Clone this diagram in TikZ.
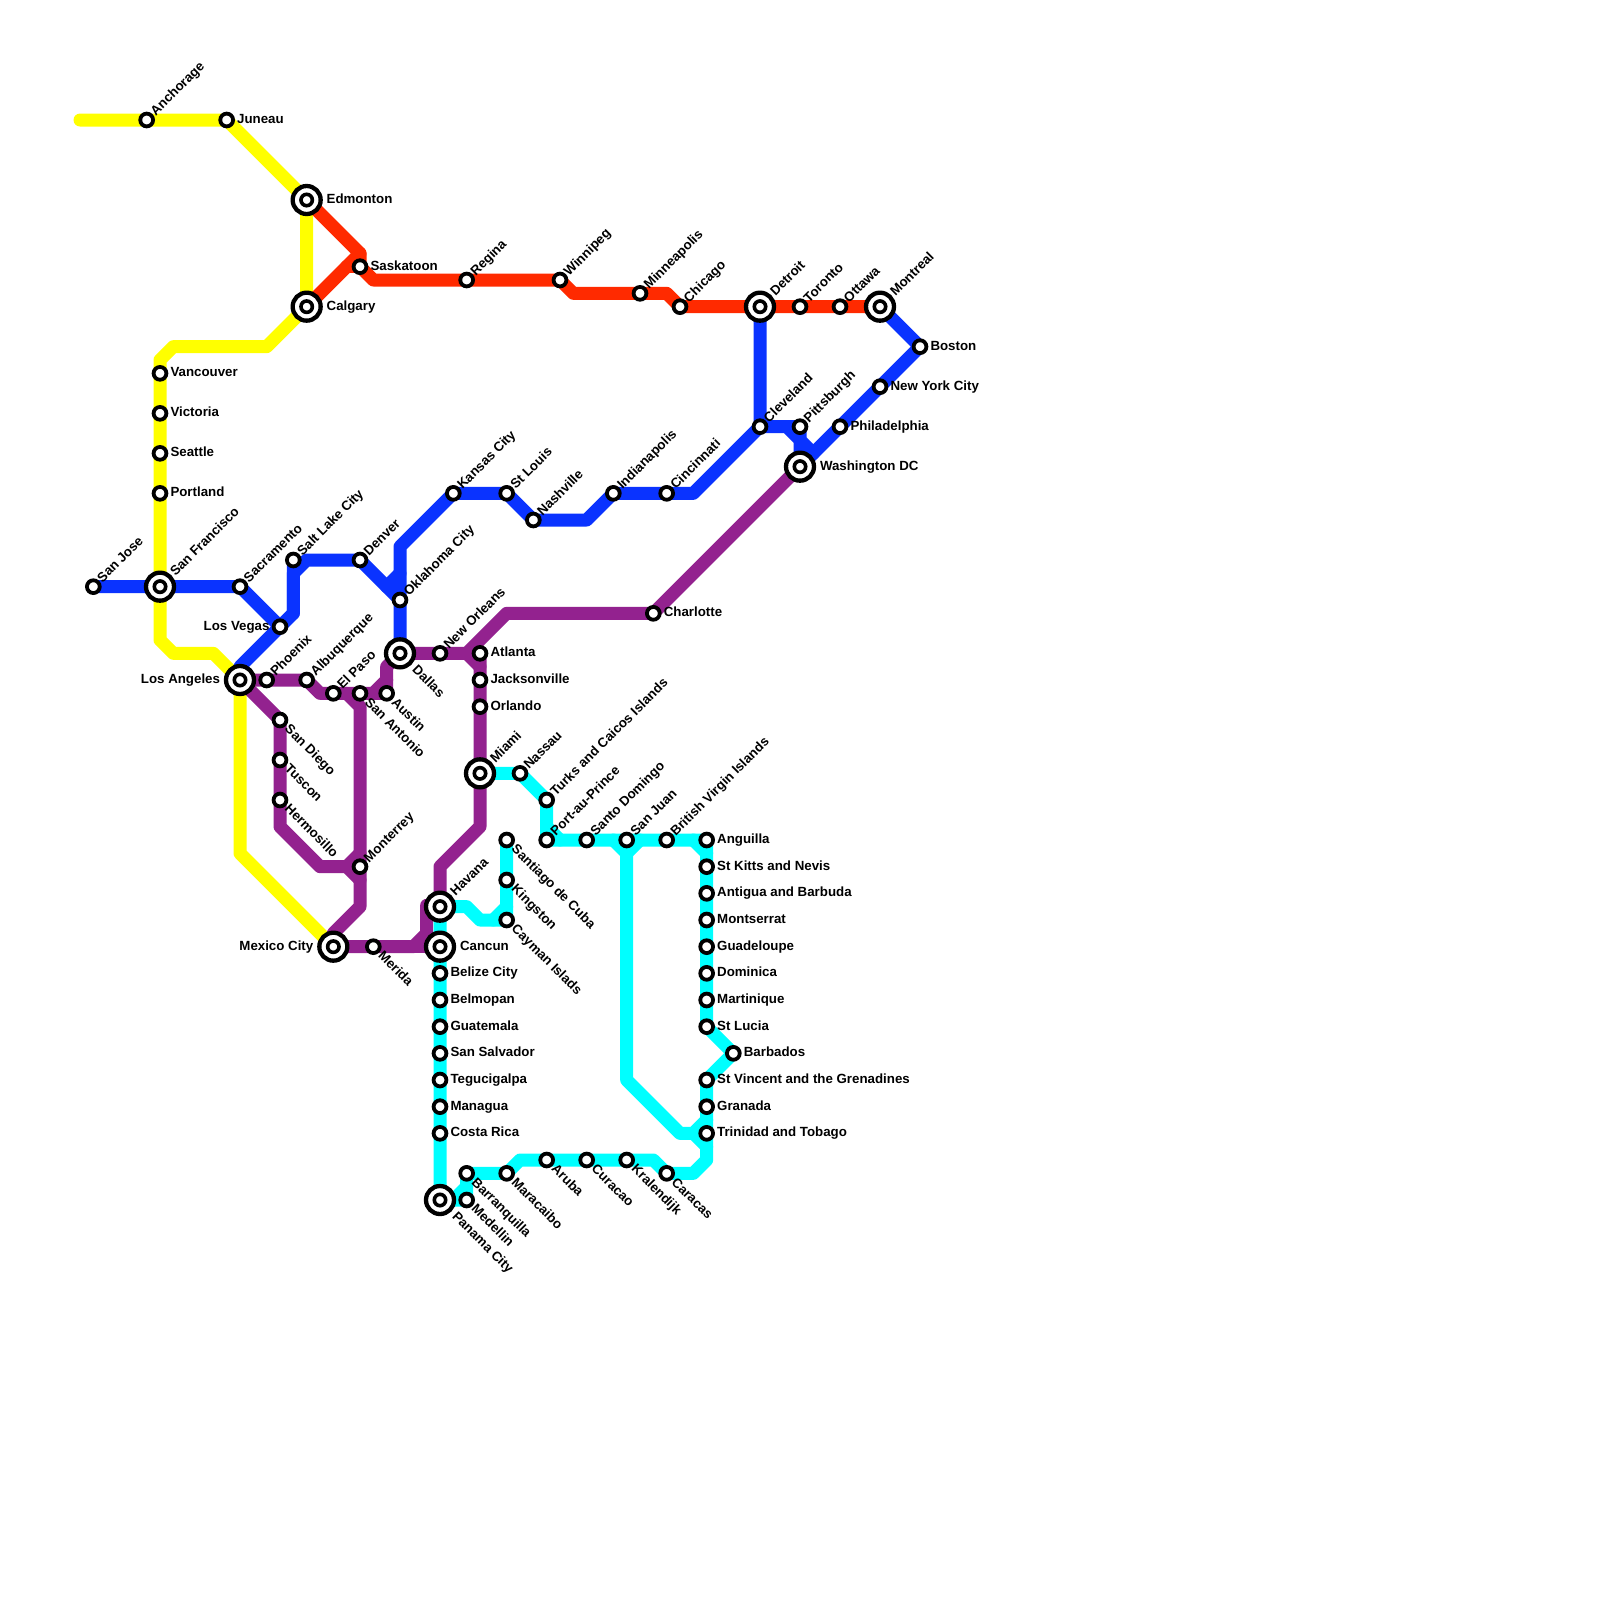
\documentclass[tikz,border=0pt]{standalone}
\usepackage{fontspec}
\setmainfont{Liberation Sans}
\pgfdeclarelayer{bg}
\pgfsetlayers{bg,main}
\definecolor{cyel}{HTML}{FFFF00}
\definecolor{cred}{HTML}{FF2A00}
\definecolor{cblu}{HTML}{0A33FF}
\definecolor{cpur}{HTML}{93228F}
\definecolor{ccya}{HTML}{00FFFF}
\tikzset{
  metro/.style={line width=13pt,line cap=round,line join=round},
  stnc/.style={circle,draw=black,fill=white,line width=3.8pt,minimum size=12.8pt,inner sep=0pt,outer sep=0pt},
  hubo/.style={circle,draw=black,fill=white,line width=4.3pt,minimum size=28pt,inner sep=0pt,outer sep=0pt},
  hubi/.style={circle,draw=black,fill=white,line width=3.6pt,minimum size=11.4pt,inner sep=0pt,outer sep=0pt},
  lbl/.style={inner sep=0pt,outer sep=0pt,font=\fontsize{13.3}{13.3}\selectfont\bfseries,text=black},
  ur/.style={lbl,rotate=45,anchor=base west,xshift=9pt,yshift=-4pt},
  dr/.style={lbl,rotate=-45,anchor=base west,xshift=10pt,yshift=-4pt},
  rt/.style={lbl,anchor=base west,xshift=10.5pt,yshift=-3.5pt},
  lt/.style={lbl,anchor=base east,xshift=-10.5pt,yshift=-3.5pt},
  urb/.style={lbl,rotate=45,anchor=base west,xshift=18pt,yshift=-4pt},
  drb/.style={lbl,rotate=-45,anchor=base west,xshift=20.5pt,yshift=-4pt},
  rtb/.style={lbl,anchor=base west,xshift=20pt,yshift=-3.5pt},
  ltb/.style={lbl,anchor=base east,xshift=-20pt,yshift=-3.5pt},
}
\newcommand{\St}[4]{\node[stnc] (#1) at (#2) {};\node[#3] (#1-t) at (#1.center) {#4};}
\newcommand{\Hb}[4]{\node[hubo] (#1) at (#2) {};\node[hubi] (#1-i) at (#1.center) {};\node[#3] (#1-t) at (#1.center) {#4};}
\begin{document}
\begin{tikzpicture}[x=13.3333pt,y=-13.3333pt]
\useasboundingbox (0,0) rectangle (120,120);
% stations
\St{sanjose}{7,44}{ur}{San Jose}
\St{anchorage}{11,9}{ur}{Anchorage}
\St{juneau}{17,9}{rt}{Juneau}
\Hb{edmonton}{23,15}{rtb}{Edmonton}
\Hb{calgary}{23,23}{rtb}{Calgary}
\St{saskatoon}{27,20}{rt}{Saskatoon}
\St{regina}{35,21}{ur}{Regina}
\St{winnipeg}{42,21}{ur}{Winnipeg}
\St{minneapolis}{48,22}{ur}{Minneapolis}
\St{chicago}{51,23}{ur}{Chicago}
\Hb{detroit}{57,23}{urb}{Detroit}
\St{toronto}{60,23}{ur}{Toronto}
\St{ottawa}{63,23}{ur}{Ottawa}
\Hb{montreal}{66,23}{urb}{Montreal}
\St{boston}{69,26}{rt}{Boston}
\St{nyc}{66,29}{rt}{New York City}
\St{philadelphia}{63,32}{rt}{Philadelphia}
\Hb{washington}{60,35}{rtb}{Washington DC}
\St{pittsburgh}{60,32}{ur}{Pittsburgh}
\St{cleveland}{57,32}{ur}{Cleveland}
\St{cincinnati}{50,37}{ur}{Cincinnati}
\St{indianapolis}{46,37}{ur}{Indianapolis}
\St{nashville}{40,39}{ur}{Nashville}
\St{stlouis}{38,37}{ur}{St Louis}
\St{kansascity}{34,37}{ur}{Kansas City}
\St{oklahoma}{30,45}{ur}{Oklahoma City}
\St{denver}{27,42}{ur}{Denver}
\St{saltlake}{22,42}{ur}{Salt Lake City}
\St{sacramento}{18,44}{ur}{Sacramento}
\St{lasvegas}{21,47}{lt}{Los Vegas}
\Hb{sanfrancisco}{12,44}{urb}{San Francisco}
\St{vancouver}{12,28}{rt}{Vancouver}
\St{victoria}{12,31}{rt}{Victoria}
\St{seattle}{12,34}{rt}{Seattle}
\St{portland}{12,37}{rt}{Portland}
\Hb{losangeles}{18,51}{ltb}{Los Angeles}
\St{phoenix}{20,51}{ur}{Phoenix}
\St{albuquerque}{23,51}{ur}{Albuquerque}
\St{elpaso}{25,52}{ur}{El Paso}
\St{sanantonio}{27,52}{dr}{San Antonio}
\St{austin}{29,52}{dr}{Austin}
\Hb{dallas}{30,49}{drb}{Dallas}
\St{neworleans}{33,49}{ur}{New Orleans}
\St{atlanta}{36,49}{rt}{Atlanta}
\St{jacksonville}{36,51}{rt}{Jacksonville}
\St{orlando}{36,53}{rt}{Orlando}
\Hb{miami}{36,58}{urb}{Miami}
\St{charlotte}{49,46}{rt}{Charlotte}
\St{sandiego}{21,54}{dr}{San Diego}
\St{tuscon}{21,57}{dr}{Tuscon}
\St{hermosillo}{21,60}{dr}{Hermosillo}
\St{monterrey}{27,65}{ur}{Monterrey}
\Hb{mexicocity}{25,71}{ltb}{Mexico City}
\St{merida}{28,71}{dr}{Merida}
\Hb{havana}{33,68}{urb}{Havana}
\Hb{cancun}{33,71}{rtb}{Cancun}
\St{belize}{33,73}{rt}{Belize City}
\St{belmopan}{33,75}{rt}{Belmopan}
\St{guatemala}{33,77}{rt}{Guatemala}
\St{sansalvador}{33,79}{rt}{San Salvador}
\St{tegucigalpa}{33,81}{rt}{Tegucigalpa}
\St{managua}{33,83}{rt}{Managua}
\St{costarica}{33,85}{rt}{Costa Rica}
\Hb{panama}{33,90}{drb}{Panama City}
\St{medellin}{35,90}{dr}{Medellin}
\St{barranquilla}{35,88}{dr}{Barranquilla}
\St{maracaibo}{38,88}{dr}{Maracaibo}
\St{aruba}{41,87}{dr}{Aruba}
\St{curacao}{44,87}{dr}{Curacao}
\St{kralendijk}{47,87}{dr}{Kralendijk}
\St{caracas}{50,88}{dr}{Caracas}
\St{santiago}{38,63}{dr}{Santiago de Cuba}
\St{kingston}{38,66}{dr}{Kingston}
\St{cayman}{38,69}{dr}{Cayman Islads}
\St{nassau}{39,58}{ur}{Nassau}
\St{turks}{41,60}{ur}{Turks and Caicos Islands}
\St{portauprince}{41,63}{ur}{Port-au-Prince}
\St{santodomingo}{44,63}{ur}{Santo Domingo}
\St{sanjuan}{47,63}{ur}{San Juan}
\St{bvi}{50,63}{ur}{British Virgin Islands}
\St{anguilla}{53,63}{rt}{Anguilla}
\St{stkitts}{53,65}{rt}{St Kitts and Nevis}
\St{antigua}{53,67}{rt}{Antigua and Barbuda}
\St{montserrat}{53,69}{rt}{Montserrat}
\St{guadeloupe}{53,71}{rt}{Guadeloupe}
\St{dominica}{53,73}{rt}{Dominica}
\St{martinique}{53,75}{rt}{Martinique}
\St{stlucia}{53,77}{rt}{St Lucia}
\St{barbados}{55,79}{rt}{Barbados}
\St{stvincent}{53,81}{rt}{St Vincent and the Grenadines}
\St{granada}{53,83}{rt}{Granada}
\St{trinidad}{53,85}{rt}{Trinidad and Tobago}
\begin{pgfonlayer}{bg}
\fill[white] (0,0) rectangle (120,120);
% yellow
\draw[metro,cyel] (6,9) -- (anchorage.center) -- (juneau.center) -- (edmonton.center) -- (calgary.center) -- (20,26) -- (13,26) -- (12,27) -- (vancouver.center) -- (victoria.center) -- (seattle.center) -- (portland.center) -- (sanfrancisco.center) -- (12,48) -- (13,49) -- (16,49) -- (losangeles.center) -- (18,64) -- (mexicocity.center);
% red
\draw[metro,cred] (edmonton.center) -- (27,19) -- (saskatoon.center) -- (28,21) -- (regina.center) -- (winnipeg.center) -- (43,22) -- (minneapolis.center) -- (50,22) -- (chicago.center) -- (detroit.center) -- (toronto.center) -- (ottawa.center) -- (montreal.center);
\draw[metro,cred] (calgary.center) -- (27,19);
\draw[metro,cred] (26,20) -- (saskatoon.center);
% blue
\draw[metro,cblu] (sanjose.center) -- (sanfrancisco.center) -- (sacramento.center) -- (lasvegas.center);
\draw[metro,cblu] (losangeles.center) -- (18,50) -- (lasvegas.center) -- (22,46) -- (saltlake.center);
\draw[metro,cblu] (22,46) -- (22,43) -- (23,42) -- (denver.center) -- (oklahoma.center);
\draw[metro,cblu] (dallas.center) -- (oklahoma.center) -- (30,41) -- (kansascity.center) -- (stlouis.center) -- (nashville.center) -- (44,39) -- (indianapolis.center) -- (cincinnati.center) -- (52,37) -- (cleveland.center) -- (detroit.center);
\draw[metro,cblu] (30,43) -- (29,44);
\draw[metro,cblu] (cleveland.center) -- (59,32) -- (60,33) -- (washington.center) -- (philadelphia.center) -- (nyc.center) -- (boston.center) -- (montreal.center);
\draw[metro,cblu] (pittsburgh.center) -- (60,33) -- (61,34);
\draw[metro,cblu] (59,32) -- (pittsburgh.center);
% purple
\draw[metro,cpur] (losangeles.center) -- (phoenix.center) -- (albuquerque.center) -- (24,52) -- (elpaso.center) -- (sanantonio.center) -- (austin.center) -- (29,50) -- (dallas.center) -- (neworleans.center) -- (35,49) -- (38,46) -- (charlotte.center) -- (washington.center);
\draw[metro,cpur] (28,52) -- (29,51);
\draw[metro,cpur] (35,49) -- (36,50);
\draw[metro,cpur] (atlanta.center) -- (jacksonville.center) -- (orlando.center) -- (miami.center) -- (36,62) -- (33,65) -- (havana.center) -- (32,67.9) -- (32,70) -- (31,71) -- (mexicocity.center);
\draw[metro,cpur] (31,71) -- (cancun.center);
\draw[metro,cpur] (losangeles.center) -- (sandiego.center) -- (tuscon.center) -- (hermosillo.center) -- (21,62) -- (24,65) -- (26,65) -- (27,64);
\draw[metro,cpur] (26,65) -- (27,66);
\draw[metro,cpur] (26,52) -- (27,53) -- (monterrey.center) -- (27,68) -- (25,70) -- (mexicocity.center);
% cyan
\draw[metro,ccya] (miami.center) -- (nassau.center) -- (turks.center) -- (portauprince.center) -- (santodomingo.center) -- (sanjuan.center) -- (bvi.center) -- (anguilla.center) -- (stkitts.center) -- (antigua.center) -- (montserrat.center) -- (guadeloupe.center) -- (dominica.center) -- (martinique.center) -- (stlucia.center) -- (barbados.center) -- (stvincent.center) -- (granada.center) -- (trinidad.center) -- (53,87) -- (52,88) -- (caracas.center) -- (49,87) -- (kralendijk.center) -- (curacao.center) -- (aruba.center) -- (39,87) -- (maracaibo.center) -- (barranquilla.center) -- (medellin.center) -- (panama.center) -- (costarica.center) -- (managua.center) -- (tegucigalpa.center) -- (sansalvador.center) -- (guatemala.center) -- (belmopan.center) -- (belize.center) -- (cancun.center) -- (havana.center) -- (35,68) -- (36,69) -- (cayman.center) -- (kingston.center) -- (santiago.center);
\draw[metro,ccya] (37,69) -- (38,68);
\draw[metro,ccya] (34,90) -- (35,89);
\draw[metro,ccya] (41,62) -- (42,63);
\draw[metro,ccya] (52,63) -- (53,64);
\draw[metro,ccya] (46,63) -- (47,64) -- (48,63);
\draw[metro,ccya] (47,64) -- (47,81) -- (51,85) -- (52,85) -- (53,84);
\draw[metro,ccya] (52,85) -- (53,86);
\end{pgfonlayer}
\end{tikzpicture}
\end{document}
